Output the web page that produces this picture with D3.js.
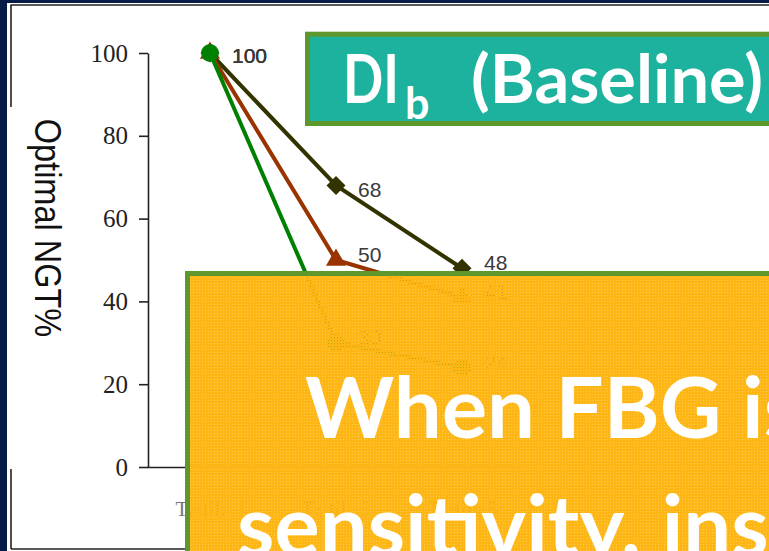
<!DOCTYPE html>
<html>
<head>
<meta charset="utf-8">
<script src="https://cdn.jsdelivr.net/npm/d3@7"></script>
<style>
  html, body { margin: 0; padding: 0; background: #061b48; overflow: hidden; }
  svg { display: block; }
</style>
</head>
<body>
<svg id="chart" width="769" height="551"></svg>
<script>
// ---- data ----
const categories = ["Tertile 1", "Tertile 2", "Tertile 3"];
const darkValues  = [100, 68, 48];
const brownValues = [100, 50, 41];
const greenValues = [100, 30, 24];
const yTickValues = [0, 20, 40, 60, 80, 100];
const yAxisTitle = "Optimal NGT%";
const bannerMain = "DI";
const bannerSub = "b";
const bannerRest = "(Baseline)";
const noteLines = ["When FBG is", "sensitivity, insulin"];

// ---- layout / style ----
const W = 769, H = 551;
const series = [
  { values: darkValues,  color: "#333300", symbol: d3.symbolSquare,   size: 180, rotate: 45, labelDy: [10, 11.5, 2] },
  { values: brownValues, color: "#993300", symbol: d3.symbolTriangle, size: 175, rotate: 0,  labelDy: [10, 2, 2] },
  { values: greenValues, color: "#008000", symbol: d3.symbolCircle,   size: 250, rotate: 0,  labelDy: [10, 2, 2] }
];

const svg = d3.select("#chart");

// panel and frame
svg.append("rect").attr("x", 7).attr("y", 3).attr("width", W - 7).attr("height", H - 3).attr("fill", "#ffffff");
const frame = svg.append("g").attr("stroke", "#222").attr("stroke-width", 1.6).attr("fill", "none");
frame.append("line").attr("x1", 10.5).attr("x2", W).attr("y1", 5).attr("y2", 5);
frame.append("line").attr("x1", 11).attr("x2", 11).attr("y1", 5).attr("y2", 549);
frame.append("line").attr("x1", 11).attr("x2", W).attr("y1", 549).attr("y2", 549);

// scales
const y = d3.scaleLinear().domain([0, 100]).range([467, 53]);
const x = d3.scalePoint().domain(categories).range([147, 525]).padding(0.5);

// axis title area (white backing over the frame)
svg.append("rect").attr("x", 8).attr("y", 107).attr("width", 26).attr("height", 362).attr("fill", "#fff");
svg.append("text")
  .attr("transform", "translate(35,228) rotate(90) scale(1,1.15)")
  .attr("text-anchor", "middle")
  .attr("font-family", "'Liberation Sans', Arial, sans-serif")
  .attr("font-size", 32.5)
  .attr("fill", "#111")
  .text(yAxisTitle);

// y axis
const yAxis = svg.append("g")
  .attr("transform", "translate(148,0)")
  .call(d3.axisLeft(y).tickValues(yTickValues).tickSize(9).tickSizeOuter(0).tickPadding(11));
yAxis.selectAll("path, line").attr("stroke", "#222").attr("stroke-width", 1.6);
yAxis.selectAll("text")
  .attr("font-family", "'Liberation Serif', 'Times New Roman', serif")
  .attr("font-size", 25)
  .attr("fill", "#222");

// x axis
const xAxis = svg.append("g")
  .attr("transform", "translate(0,467)")
  .call(d3.axisBottom(x).tickSize(0).tickSizeOuter(0).tickPadding(34));
xAxis.select("path").attr("stroke", "#222").attr("stroke-width", 1.6);
xAxis.selectAll("text")
  .attr("font-family", "'Liberation Serif', 'Times New Roman', serif")
  .attr("font-size", 21)
  .attr("fill", "#777");

// series lines, markers, labels
const line = d3.line().x((d, i) => x(categories[i])).y(d => y(d));
series.forEach(s => {
  const g = svg.append("g");
  g.append("path")
    .attr("d", line(s.values))
    .attr("fill", "none")
    .attr("stroke", s.color)
    .attr("stroke-width", 4);
  g.selectAll("path.mk")
    .data(s.values)
    .join("path")
    .attr("class", "mk")
    .attr("d", d3.symbol().type(s.symbol).size(s.size))
    .attr("transform", (d, i) => `translate(${x(categories[i])},${y(d)}) rotate(${s.rotate})`)
    .attr("fill", s.color);
  g.selectAll("text")
    .data(s.values)
    .join("text")
    .attr("x", (d, i) => x(categories[i]) + 22)
    .attr("y", (d, i) => y(d) + s.labelDy[i])
    .attr("font-family", "'Liberation Sans', Arial, sans-serif")
    .attr("font-size", 21)
    .attr("fill", "#3a3a3a")
    .text(d => d);
});

// banner
const banner = svg.append("g");
banner.append("rect")
  .attr("x", 307.5).attr("y", 34.2).attr("width", 520).attr("height", 89.3)
  .attr("fill", "#1cb29e").attr("stroke", "#5e982c").attr("stroke-width", 5);
const bt = banner.append("text")
  .attr("y", 103)
  .attr("font-family", "Lato, 'Open Sans', sans-serif")
  .attr("font-weight", 700)
  .attr("font-size", 67)
  .attr("fill", "#fff");
bt.append("tspan").attr("x", 343).attr("textLength", 56).attr("lengthAdjust", "spacingAndGlyphs").text(bannerMain);
bt.append("tspan").attr("x", 405).attr("dy", 16).attr("font-size", 43).text(bannerSub);
bt.append("tspan").attr("x", 471).attr("dy", -16).attr("textLength", 292).attr("lengthAdjust", "spacingAndGlyphs").text(bannerRest);

// note box with dotted fill
const defs = svg.append("defs");
const pat = defs.append("pattern")
  .attr("id", "dots").attr("patternUnits", "userSpaceOnUse")
  .attr("width", 3).attr("height", 3);
pat.append("path").attr("d", "M0,0H3V3H0Z M1,1H2V2H1Z").attr("fill-rule", "evenodd").attr("fill", "#feb614");
pat.append("rect").attr("x", 1).attr("y", 1).attr("width", 1).attr("height", 1).attr("fill", "#feb614").attr("fill-opacity", 0.74);

svg.append("rect")
  .attr("x", 187.5).attr("y", 273.5).attr("width", 700).attr("height", 400)
  .attr("fill", "url(#dots)").attr("stroke", "#5e982c").attr("stroke-width", 5);

const note = svg.append("g")
  .attr("font-family", "Lato, 'Open Sans', sans-serif")
  .attr("font-weight", 700)
  .attr("font-size", 85)
  .attr("fill", "#fff");
note.append("text").attr("x", 305).attr("y", 438).text(noteLines[0]);
note.append("text").attr("x", 237).attr("y", 556).text(noteLines[1]);
</script>
</body>
</html>
